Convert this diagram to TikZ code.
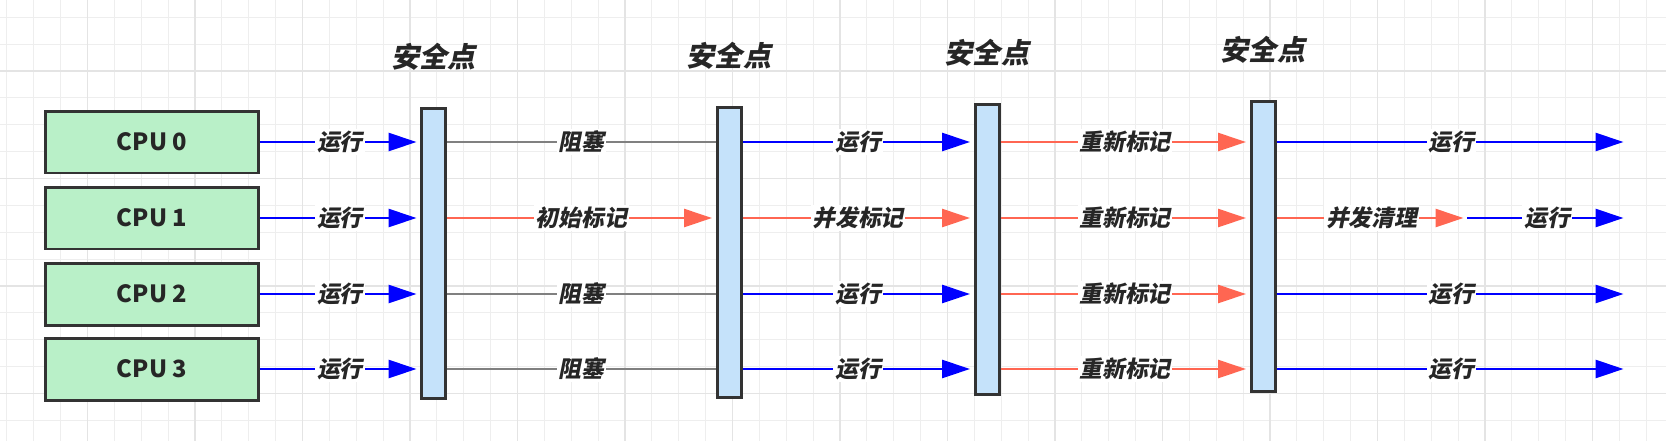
\documentclass[tikz,border=0pt]{standalone}
\usepackage{fontspec}
\newfontfamily\cjk{Noto Sans CJK SC}
\newfontfamily\cjksl[FakeSlant=0.2]{Noto Sans CJK SC}
\usetikzlibrary{arrows.meta, positioning}
\definecolor{cpugreen}{RGB}{185,240,200}
\definecolor{barblue}{RGB}{197,226,250}
\definecolor{runblue}{RGB}{0,0,255}
\definecolor{markred}{RGB}{255,102,82}
\definecolor{blockgray}{RGB}{128,128,128}
\definecolor{edgegray}{RGB}{51,51,51}
\definecolor{gridcol}{RGB}{238,238,238}
\definecolor{gridmajor}{RGB}{228,228,228}

\tikzset{
  cpu/.style={draw=edgegray, line width=1.7pt, fill=cpugreen, minimum width=4.26cm, minimum height=1.24cm, font=\cjk\bfseries\fontsize{13.5}{15}\selectfont, text=black!85},
  sbar/.style={draw=edgegray, line width=1.7pt, fill=barblue, minimum width=0.48cm, minimum height=5.8cm, inner sep=0pt},
  sptitle/.style={font=\cjksl\bfseries\fontsize{16}{19}\selectfont, text=black!85},
  lbl/.style={fill=white, inner sep=1pt, font=\cjksl\bfseries\fontsize{13}{15}\selectfont, text=black!85},
  run/.style={draw=runblue, line width=1.6pt, -{Triangle[length=0.56cm, width=0.36cm]}, shorten >=2pt},
  redarrow/.style={draw=markred, line width=1.5pt, -{Triangle[length=0.56cm, width=0.36cm]}, shorten >=2pt},
  block/.style={draw=blockgray, line width=1.1pt},
  gridline/.style={draw=gridcol, line width=0.6pt},
  gridbold/.style={draw=gridmajor, line width=0.8pt},
}

\begin{document}
\begin{tikzpicture}[x=0.02cm, y=-0.02cm]
    \useasboundingbox (0,0) rectangle (1666,441);

    % background grid
    \foreach \i in {0,...,61} \draw[gridline] ({6.875+26.875*\i},0) -- ({6.875+26.875*\i},441);
    \foreach \j in {0,...,15} \draw[gridline] (0,{17.25+26.875*\j}) -- (1666,{17.25+26.875*\j});
    \foreach \i in {0,...,14} \draw[gridbold] ({87.5+107.5*\i},0) -- ({87.5+107.5*\i},441);
    \foreach \j in {0,...,3} \draw[gridbold] (0,{71+107.5*\j}) -- (1666,{71+107.5*\j});

    % CPUs
    \node[cpu] (cpu0) at (152,142) {CPU 0};
    \node[cpu] (cpu1) at (152,218) {CPU 1};
    \node[cpu] (cpu2) at (152,294) {CPU 2};
    \node[cpu] (cpu3) at (152,369) {CPU 3};

    % Safepoints
    \node[sbar] (sp1) at (433.5,253.5) {};
    \node[sbar] (sp2) at (729,252.5) {};
    \node[sbar] (sp3) at (987,249.5) {};
    \node[sbar] (sp4) at (1263,246.5) {};
    \foreach \k in {1,...,4}
        \node[sptitle, above=0.6cm of sp\k] (title\k) {安全点};

    % arrow ends on the right
    \coordinate (clean) at (1467,0);
    \coordinate (fin) at (1627,0);

    % CPU -> first safepoint
    \foreach \i in {0,...,3}
        \draw[run] (cpu\i.east) -- (cpu\i.east -| sp1.west) node[lbl, midway] {运行};

    % first -> second safepoint
    \draw[block] (sp1.east |- cpu0) -- (sp2.west |- cpu0) node[lbl, midway] {阻塞};
    \draw[redarrow] (sp1.east |- cpu1) -- (sp2.west |- cpu1) node[lbl, midway] {初始标记};
    \draw[block] (sp1.east |- cpu2) -- (sp2.west |- cpu2) node[lbl, midway] {阻塞};
    \draw[block] (sp1.east |- cpu3) -- (sp2.west |- cpu3) node[lbl, midway] {阻塞};

    % second -> third safepoint
    \draw[run] (sp2.east |- cpu0) -- (sp3.west |- cpu0) node[lbl, midway] {运行};
    \draw[redarrow] (sp2.east |- cpu1) -- (sp3.west |- cpu1) node[lbl, midway] {并发标记};
    \draw[run] (sp2.east |- cpu2) -- (sp3.west |- cpu2) node[lbl, midway] {运行};
    \draw[run] (sp2.east |- cpu3) -- (sp3.west |- cpu3) node[lbl, midway] {运行};

    % third -> fourth safepoint
    \foreach \i in {0,...,3}
        \draw[redarrow] (sp3.east |- cpu\i) -- (sp4.west |- cpu\i) node[lbl, midway] {重新标记};

    % after the fourth safepoint
    \draw[run] (sp4.east |- cpu0) -- (fin |- cpu0) node[lbl, midway] {运行};
    \draw[redarrow] (sp4.east |- cpu1) -- (clean |- cpu1) node[lbl, midway] {并发清理};
    \draw[run] (clean |- cpu1) -- (fin |- cpu1) node[lbl, midway] {运行};
    \draw[run] (sp4.east |- cpu2) -- (fin |- cpu2) node[lbl, midway] {运行};
    \draw[run] (sp4.east |- cpu3) -- (fin |- cpu3) node[lbl, midway] {运行};
\end{tikzpicture}
\end{document}
